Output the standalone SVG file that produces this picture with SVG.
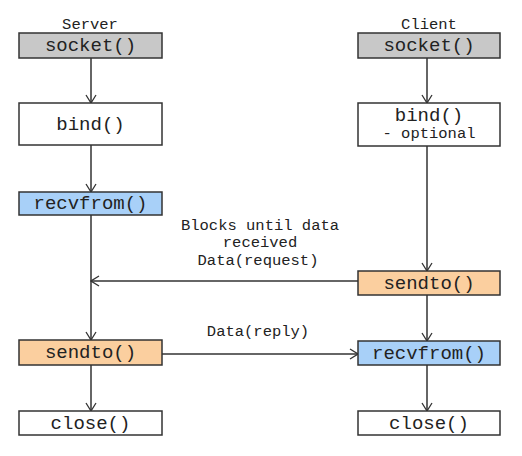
<svg xmlns="http://www.w3.org/2000/svg" width="522" height="456" viewBox="0 0 522 456">
<style>
rect{stroke:#333;stroke-width:1.5}
.w{fill:#fff}.g{fill:#c8c8c8}.b{fill:#a8d0f8}.o{fill:#fbcf9f}
text{font-family:"Liberation Mono","Courier New",monospace;fill:#222;text-anchor:middle}
.big{font-size:19px}.sm{font-size:15.5px}
.c line{stroke:#333;stroke-width:1.5;marker-end:url(#a)}
</style>
<defs>
<marker id="a" viewBox="0 0 12 12" refX="11" refY="6" markerWidth="12" markerHeight="12" markerUnits="userSpaceOnUse" orient="auto">
<path d="M3 1 L11 6 L3 11" fill="none" stroke="#333" stroke-width="1.3"/>
</marker>
</defs>
<rect width="522" height="456" fill="#fff" style="stroke:none"/>
<g class="c" id="connectors">
<line x1="91" y1="58" x2="91" y2="103"/>
<line x1="91" y1="145" x2="91" y2="192"/>
<line x1="91" y1="215" x2="91" y2="340"/>
<line x1="91" y1="365" x2="91" y2="411"/>
<line x1="427" y1="58" x2="427" y2="103"/>
<line x1="427" y1="146" x2="427" y2="271"/>
<line x1="427" y1="295" x2="427" y2="341"/>
<line x1="427" y1="365" x2="427" y2="411"/>
<line x1="358" y1="281" x2="91" y2="281"/>
<line x1="162" y1="354" x2="358" y2="354"/>
</g>
<g id="labels">
<text class="sm" x="90" y="29">Server</text>
<text class="sm" x="429" y="29">Client</text>
<text class="sm" x="260" y="230">Blocks until data</text>
<text class="sm" x="260" y="247">received</text>
<text class="sm" x="258" y="265">Data(request)</text>
<text class="sm" x="258" y="336">Data(reply)</text>
</g>
<g id="s_socket"><rect class="g" x="19" y="33" width="143" height="25"/><text class="big" x="90.5" y="51">socket()</text></g>
<g id="s_bind"><rect class="w" x="19" y="103" width="143" height="42"/><text class="big" x="90.5" y="130">bind()</text></g>
<g id="s_recvfrom"><rect class="b" x="19" y="192" width="143" height="23"/><text class="big" x="90.5" y="209">recvfrom()</text></g>
<g id="s_sendto"><rect class="o" x="19" y="340" width="143" height="25"/><text class="big" x="90.5" y="358">sendto()</text></g>
<g id="s_close"><rect class="w" x="19" y="411" width="143" height="24"/><text class="big" x="90.5" y="429">close()</text></g>
<g id="c_socket"><rect class="g" x="358" y="33" width="142" height="25"/><text class="big" x="429" y="51">socket()</text></g>
<g id="c_bind"><rect class="w" x="358" y="103" width="142" height="43"/><text class="big" x="429" y="121">bind()</text><text class="sm" x="429" y="138">- optional</text></g>
<g id="c_sendto"><rect class="o" x="358" y="271" width="142" height="24"/><text class="big" x="429" y="289">sendto()</text></g>
<g id="c_recvfrom"><rect class="b" x="358" y="341" width="142" height="24"/><text class="big" x="429" y="359">recvfrom()</text></g>
<g id="c_close"><rect class="w" x="358" y="411" width="142" height="24"/><text class="big" x="429" y="429">close()</text></g>
</svg>
